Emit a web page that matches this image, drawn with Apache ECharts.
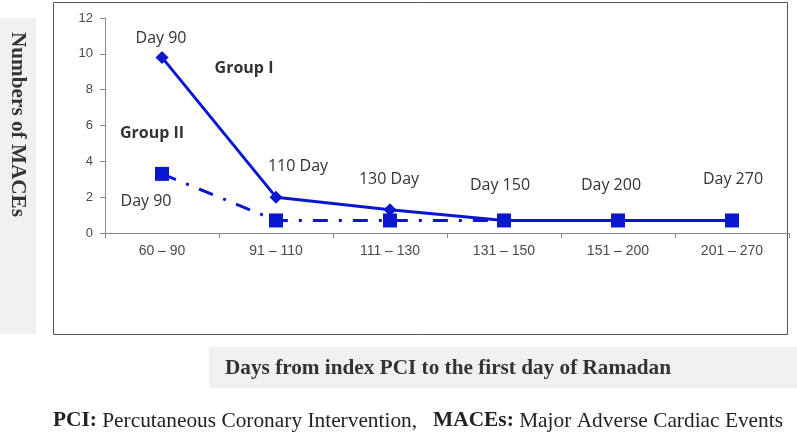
<!DOCTYPE html>
<html>
<head>
<meta charset="utf-8">
<script src="https://cdn.jsdelivr.net/npm/echarts@6/dist/echarts.min.js"></script>
<style>html,body{margin:0;padding:0;background:#fff;}#c{width:797px;height:433px;}</style>
</head>
<body>
<div id="c"></div>
<script>
// ---- data ----
const categories = ['60 – 90', '91 – 110', '111 – 130', '131 – 150', '151 – 200', '201 – 270'];
const groupI = [9.8, 2.0, 1.3, 0.7, 0.7, 0.7];
const groupII = [3.3, 0.7, 0.7, 0.7, 0.7, 0.7];
const groupILabels = ['Day 90', '110 Day', '130 Day', 'Day 150', 'Day 200', 'Day 270'];
const groupIILabels = ['Day 90', '', '', '', '', ''];
const seriesNames = ['Group I', 'Group II'];
const yMin = 0, yMax = 12, yInterval = 2;
const yTitle = 'Numbers of MACEs';
const xTitle = 'Days from index PCI to the first day of Ramadan';
const footnote = [['PCI:', ' Percutaneous Coronary Intervention,   '], ['MACEs:', ' Major Adverse Cardiac Events']];

// ---- styling / placement ----
const blue = '#0b16cf';
const annColor = '#333333';
const annFont = '"Open Sans", sans-serif';
const groupIOffsets = [[-1, -19], [22, -31], [-1, -30], [-4, -35], [-7, -35], [1, -41]];
const groupIIOffsets = [[-16, 28], [0, 0], [0, 0], [0, 0], [0, 0], [0, 0]];

function measure(text, font) {
  const c = document.createElement('canvas').getContext('2d');
  c.font = font;
  return c.measureText(text).width;
}
const serif = '"Liberation Serif", "Times New Roman", serif';
const yTitleScale = 185 / measure(yTitle, 'bold 22px ' + serif);
const xTitleScale = 446 / measure(xTitle, 'bold 22px ' + serif);
const footW = footnote.reduce((s, p) => s + measure(p[0], 'bold 21px ' + serif) + measure(p[1], '21px ' + serif), 0);
const footScale = 730 / footW;

const chart = echarts.init(document.getElementById('c'), null, { renderer: 'canvas' });

function mkData(vals, labels, offsets) {
  return vals.map((v, i) => ({
    value: v,
    label: {
      show: labels[i] !== '',
      formatter: labels[i],
      position: 'inside',
      offset: offsets[i],
      color: annColor,
      fontFamily: annFont,
      fontSize: 16
    }
  }));
}

const option = {
  backgroundColor: '#ffffff',
  animation: false,
  grid: { left: 105, right: 8, top: 18, bottom: 200, containLabel: false },
  xAxis: {
    type: 'category',
    data: categories,
    boundaryGap: true,
    axisLine: { lineStyle: { color: '#8a8a8a', width: 1 } },
    axisTick: { show: true, length: 5, lineStyle: { color: '#8a8a8a' } },
    axisLabel: { color: '#4a4a4a', fontSize: 14, fontFamily: '"Liberation Sans", Arial, sans-serif', margin: 11 }
  },
  yAxis: {
    type: 'value',
    min: yMin, max: yMax, interval: yInterval,
    axisLine: { show: true, lineStyle: { color: '#8a8a8a', width: 1 } },
    axisTick: { show: true, length: 5, lineStyle: { color: '#8a8a8a' } },
    splitLine: { show: false },
    axisLabel: { color: '#4a4a4a', fontSize: 13, fontFamily: '"Liberation Sans", Arial, sans-serif', margin: 12 }
  },
  series: [
    {
      name: seriesNames[0],
      type: 'line',
      data: mkData(groupI, groupILabels, groupIOffsets),
      symbol: 'diamond',
      symbolSize: 13,
      showAllSymbol: true,
      itemStyle: { color: blue },
      lineStyle: { color: blue, width: 3, type: 'solid' },
      z: 2,
      markPoint: {
        symbol: 'circle', symbolSize: 0,
        data: [{ coord: [categories[0], groupI[0]], label: { show: true, formatter: seriesNames[0], position: 'inside', offset: [82, 11], color: annColor, fontFamily: annFont, fontWeight: 'bold', fontSize: 16 } }]
      }
    },
    {
      name: seriesNames[1],
      type: 'line',
      data: mkData(groupII, groupIILabels, groupIIOffsets),
      symbol: 'rect',
      symbolSize: 14,
      showAllSymbol: true,
      itemStyle: { color: blue },
      lineStyle: { color: blue, width: 3, type: [15, 11, 3, 11] },
      z: 3,
      markPoint: {
        symbol: 'circle', symbolSize: 0,
        data: [{ coord: [categories[0], groupII[0]], label: { show: true, formatter: seriesNames[1], position: 'inside', offset: [-10, -40], color: annColor, fontFamily: annFont, fontWeight: 'bold', fontSize: 16 } }]
      }
    }
  ],
  graphic: [
    { type: 'rect', z: -10, shape: { x: 0, y: 18, width: 36, height: 316 }, style: { fill: '#eff1f0' } },
    { type: 'rect', z: -10, shape: { x: 209, y: 347, width: 588, height: 41 }, style: { fill: '#eff1f0' } },
    { type: 'rect', z: -5, shape: { x: 53.5, y: 2.5, width: 734, height: 332 }, style: { fill: null, stroke: '#555', lineWidth: 1 } },
    {
      type: 'text', x: 18, y: 124.5, rotation: -Math.PI / 2, scaleX: yTitleScale,
      style: { text: yTitle, font: 'bold 22px ' + serif, fill: '#333', textAlign: 'center', textVerticalAlign: 'middle' }
    },
    {
      type: 'text', x: 448, y: 368, scaleX: xTitleScale,
      style: { text: xTitle, font: 'bold 22px ' + serif, fill: '#333', textAlign: 'center', textVerticalAlign: 'middle' }
    },
    {
      type: 'text', x: 53, y: 421, scaleX: footScale,
      style: {
        text: footnote.map(p => '{b|' + p[0] + '}{n|' + p[1] + '}').join(''),
        textAlign: 'left', textVerticalAlign: 'middle',
        rich: {
          b: { fontFamily: serif, fontSize: 21, fontWeight: 'bold', fill: '#222', color: '#222' },
          n: { fontFamily: serif, fontSize: 21, fill: '#222', color: '#222' }
        }
      }
    }
  ]
};
chart.setOption(option);
</script>
</body>
</html>
